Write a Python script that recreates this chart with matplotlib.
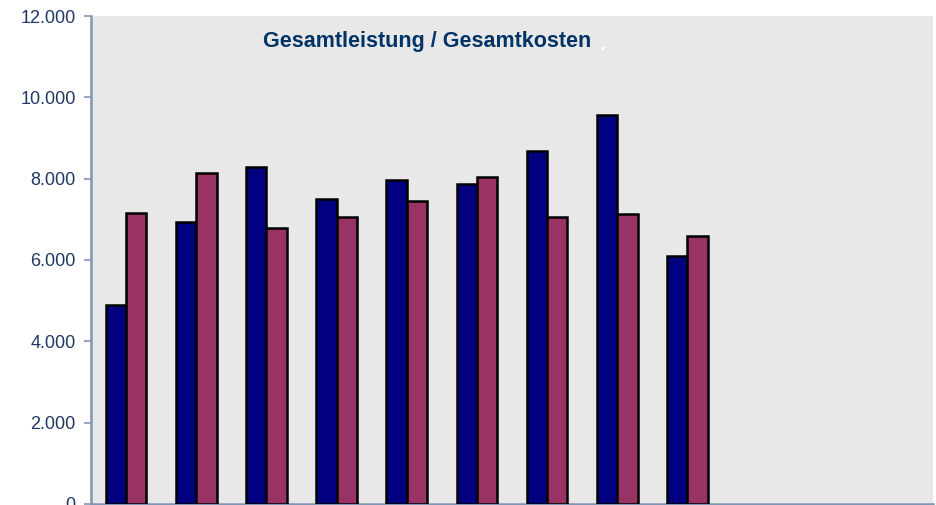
import matplotlib
matplotlib.use("Agg")
import matplotlib.pyplot as plt
import numpy as np
from matplotlib.ticker import FuncFormatter

plt.rcParams['font.family'] = ['Liberation Sans', 'DejaVu Sans']

categories = list(range(1, 13))
gesamtleistung = [4890, 6930, 8290, 7510, 7970, 7860, 8690, 9560, 6090, None, None, None]
gesamtkosten = [7160, 8150, 6790, 7060, 7440, 8050, 7050, 7140, 6580, None, None, None]
yticks = [0, 2000, 4000, 6000, 8000, 10000, 12000]
title = "Gesamtleistung / Gesamtkosten"

W, H = 937, 505
fig = plt.figure(figsize=(W / 100, H / 100), dpi=100)
fig.patch.set_facecolor('white')
ax = fig.add_axes([91 / W, 1 / H, (933 - 91) / W, (504 - 16) / H])
ax.set_facecolor('#E8E8E8')

x = np.arange(len(categories))
bw = 0.29
v1 = np.array([np.nan if v is None else v for v in gesamtleistung], dtype=float)
v2 = np.array([np.nan if v is None else v for v in gesamtkosten], dtype=float)

ax.bar(x - bw / 2, v1, width=bw, color='#000080', edgecolor='black', linewidth=1.8, zorder=3)
ax.bar(x + bw / 2, v2, width=bw, color='#993366', edgecolor='black', linewidth=1.8, zorder=3)

ax.set_xlim(-0.5, len(categories) - 0.5)
ax.set_ylim(0, 12000)
ax.set_yticks(yticks)
ax.yaxis.set_major_formatter(FuncFormatter(lambda v, p: f"{int(v):,}".replace(",", ".")))
ax.set_xticks(np.arange(len(categories) + 1) - 0.5)
ax.set_xticklabels([])

label_color = '#1F3864'
spine_color = '#7F96B2'
ax.tick_params(axis='y', direction='out', length=5, width=1.2, color=spine_color,
               labelcolor=label_color, labelsize=13, pad=6)
ax.tick_params(axis='x', direction='out', length=5, width=1.2, color=spine_color)
for s in ['top', 'right']:
    ax.spines[s].set_visible(False)
for s in ['left', 'bottom']:
    ax.spines[s].set_color(spine_color)
    ax.spines[s].set_linewidth(1.8)

fig.text(427 / W, 1 - 42 / H, title, ha='center', va='center', fontsize=15.5,
         fontweight='bold', color='#003366')
fig.text(603 / W, 1 - 45 / H, ".", ha='center', va='center', fontsize=15.5,
         fontweight='bold', color='white')

fig.savefig('out.png', dpi=100)
